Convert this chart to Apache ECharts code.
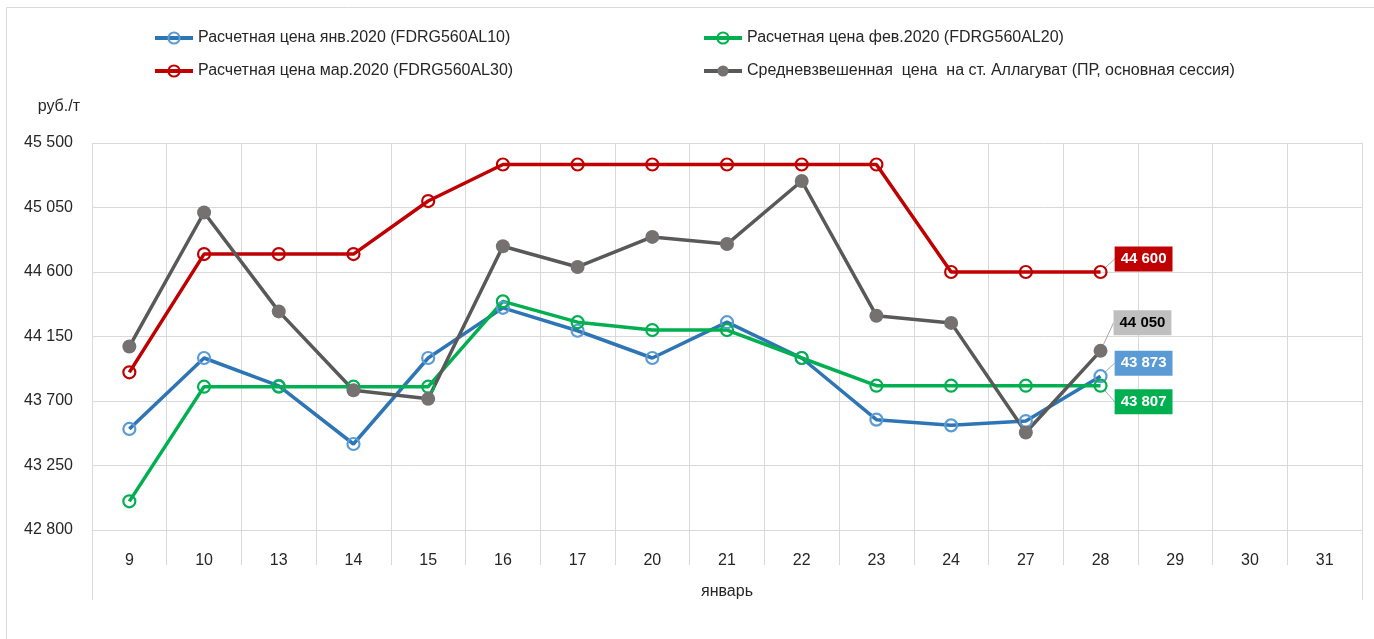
<!DOCTYPE html>
<html>
<head>
<meta charset="utf-8">
<script src="https://cdn.jsdelivr.net/npm/echarts@6/dist/echarts.min.js"></script>
<style>
  html, body { margin: 0; padding: 0; background: #ffffff; }
  #chart { width: 1374px; height: 639px; }
</style>
</head>
<body>
<div id="chart"></div>
<script>
// Trading days of January 2020
const categories = ['9', '10', '13', '14', '15', '16', '17', '20', '21', '22', '23', '24', '27', '28', '29', '30', '31'];
const monthLabel = ['январь'];

// Settlement prices of the futures contracts, RUB/t
const janPrice = [43505, 44000, 43805, 43400, 44000, 44350, 44190, 44000, 44250, 44000, 43570, 43530, 43560, 43873];
const febPrice = [43000, 43800, 43800, 43800, 43800, 44395, 44250, 44195, 44195, 44000, 43807, 43807, 43807, 43807];
const marPrice = [43900, 44725, 44725, 44725, 45095, 45350, 45350, 45350, 45350, 45350, 45350, 44600, 44600, 44600];
// Weighted average exchange price, Allaguvat station
const avgPrice = [44080, 45015, 44325, 43775, 43715, 44780, 44635, 44845, 44795, 45235, 44295, 44245, 43480, 44050];

const seriesNames = [
  'Расчетная цена янв.2020 (FDRG560AL10)',
  'Расчетная цена фев.2020 (FDRG560AL20)',
  'Расчетная цена мар.2020 (FDRG560AL30)',
  'Средневзвешенная  цена  на ст. Аллагуват (ПР, основная сессия)'
];

const yMin = 42800, yMax = 45500, yStep = 450;

const FONT = "'Liberation Sans', Arial, sans-serif";
const TEXT = '#262626';
const GRID = '#d9d9d9';

function fmt(v) {
  return String(v).replace(/\B(?=(\d{3})+(?!\d))/g, ' ');
}

// Builds data items; the last point carries a coloured value tag
function withEndTag(values, tagBg, tagColor, tagDistance) {
  return values.map((v, i) => {
    if (i !== values.length - 1) return v;
    return {
      value: v,
      label: {
        show: true,
        position: 'right',
        distance: tagDistance,
        formatter: (p) => fmt(p.value),
        backgroundColor: tagBg,
        color: tagColor,
        fontFamily: FONT,
        fontSize: 15,
        fontWeight: 'bold',
        padding: [5, 6, 5, 6]
      }
    };
  });
}

function lineSeries(name, values, lineColor, markerColor, filled, tagBg, tagColor, tagShift) {
  return {
    name: name,
    type: 'line',
    data: withEndTag(values, tagBg, tagColor, filled ? 6 : 7),
    symbol: 'circle',
    symbolSize: filled ? 14 : 12,
    showAllSymbol: true,
    lineStyle: { color: lineColor, width: 3.5 },
    itemStyle: filled
      ? { color: markerColor, borderColor: markerColor, borderWidth: 0 }
      : { color: 'rgba(255,255,255,0)', borderColor: markerColor, borderWidth: 2.2 },
    label: { show: false },
    labelLayout: { dy: tagShift },
    labelLine: { show: true, lineStyle: { color: '#a6a6a6', width: 1 } },
    emphasis: { disabled: true },
    animation: false
  };
}

function legendColumn(names, left) {
  return {
    data: names,
    orient: 'vertical',
    left: left,
    top: 30,
    padding: 0,
    itemWidth: 38,
    itemHeight: 14,
    itemGap: 17,
    lineStyle: { width: 4 },
    textStyle: { fontFamily: FONT, fontSize: 16, color: TEXT }
  };
}

const chart = echarts.init(document.getElementById('chart'), null, { renderer: 'canvas' });

chart.setOption({
  backgroundColor: '#ffffff',
  animation: false,
  textStyle: { fontFamily: FONT },
  graphic: [{
    type: 'rect',
    silent: true,
    z: -10,
    shape: { x: 6.5, y: 7.5, width: 1400, height: 700 },
    style: { fill: 'none', stroke: GRID, lineWidth: 1 }
  }],
  legend: [
    legendColumn([seriesNames[0], seriesNames[2]], 153),
    legendColumn([seriesNames[1], seriesNames[3]], 702)
  ],
  grid: { left: 92, right: 12, top: 143, bottom: 109, containLabel: false },
  xAxis: [
    {
      type: 'category',
      data: categories,
      boundaryGap: true,
      position: 'bottom',
      axisLine: { show: true, lineStyle: { color: GRID } },
      axisTick: { show: true, alignWithLabel: false, interval: 0, length: 35, lineStyle: { color: GRID } },
      axisLabel: { interval: 0, margin: 23, fontSize: 16, color: TEXT, fontFamily: FONT },
      splitLine: { show: true, interval: 0, lineStyle: { color: GRID, width: 1 } }
    },
    {
      type: 'category',
      data: monthLabel,
      boundaryGap: true,
      position: 'bottom',
      axisLine: { show: false },
      axisTick: { show: true, alignWithLabel: false, interval: 0, length: 70, lineStyle: { color: GRID } },
      axisLabel: { margin: 54, fontSize: 16, color: TEXT, fontFamily: FONT },
      splitLine: { show: false }
    }
  ],
  yAxis: {
    type: 'value',
    min: yMin,
    max: yMax,
    interval: yStep,
    name: 'руб./т',
    nameLocation: 'end',
    nameGap: 28,
    nameTextStyle: { fontSize: 16, color: TEXT, fontFamily: FONT, align: 'right', padding: [0, 12, 0, 0] },
    axisLine: { show: false },
    axisTick: { show: false },
    axisLabel: { margin: 19, fontSize: 16, color: TEXT, fontFamily: FONT, formatter: (v) => fmt(v) },
    splitLine: { show: true, lineStyle: { color: GRID, width: 1 } }
  },
  series: [
    lineSeries(seriesNames[0], janPrice, '#2e75b6', '#5b9bd5', false, '#5b9bd5', '#ffffff', -13),
    lineSeries(seriesNames[1], febPrice, '#00b050', '#00b050', false, '#00b050', '#ffffff', 16),
    lineSeries(seriesNames[2], marPrice, '#c00000', '#c00000', false, '#c00000', '#ffffff', -13),
    lineSeries(seriesNames[3], avgPrice, '#595959', '#767171', true, '#bfbfbf', '#000000', -28)
  ]
});
</script>
</body>
</html>
